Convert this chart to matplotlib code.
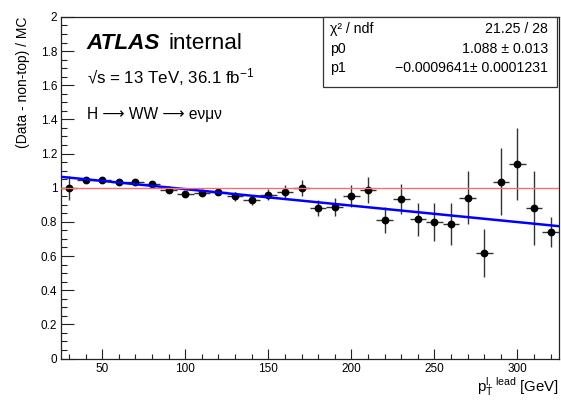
import matplotlib
import numpy as np

matplotlib.use("Agg")
import matplotlib.pyplot as plt
from matplotlib.patches import Rectangle

# bin centres of lead lepton pT [GeV]
pt = [30, 40, 50, 60, 70, 80, 90, 100, 110, 120, 130, 140, 150, 160, 170,
      180, 190, 200, 210, 220, 230, 240, 250, 260, 270, 280, 290, 300, 310, 320]
ratio = [1.000, 1.045, 1.045, 1.035, 1.032, 1.020, 0.985, 0.961, 0.969, 0.977,
         0.950, 0.926, 0.959, 0.977, 1.000, 0.879, 0.885, 0.950, 0.987, 0.809,
         0.934, 0.815, 0.799, 0.786, 0.941, 0.618, 1.035, 1.139, 0.879, 0.739]
ratio_err = [0.070, 0.020, 0.015, 0.015, 0.015, 0.015, 0.015, 0.015, 0.020, 0.020,
             0.027, 0.025, 0.033, 0.039, 0.047, 0.047, 0.053, 0.064, 0.074, 0.076,
             0.090, 0.098, 0.109, 0.123, 0.156, 0.140, 0.196, 0.209, 0.217, 0.088]
bin_halfwidth = 5

# linear fit result
p0, p0_err = 1.088, 0.013
p1, p1_err = -0.0009641, 0.0001231
chi2_ndf = "21.25 / 28"

plt.rcParams["font.family"] = ["Liberation Sans", "DejaVu Sans"]
plt.rcParams["mathtext.fontset"] = "custom"
plt.rcParams["mathtext.rm"] = "Liberation Sans"
plt.rcParams["mathtext.it"] = "Liberation Sans:italic"
plt.rcParams["mathtext.bf"] = "Liberation Sans:bold"

W, H = 561, 400
fig = plt.figure(figsize=(W / 100, H / 100), dpi=100)
ax = fig.add_axes([60.7 / W, 1 - 358.5 / H, (559 - 60.7) / W, (358.5 - 16.9) / H])

xmin, xmax = 25, 325
ax.set_xlim(xmin, xmax)
ax.set_ylim(0, 2)

ax.errorbar(pt, ratio, yerr=ratio_err, xerr=bin_halfwidth, fmt="o", color="k",
            ecolor="#333333", elinewidth=1.0, markersize=4.6, capsize=0, zorder=3)

xs = np.array([xmin, xmax])
ax.plot(xs, p0 + p1 * xs, color="#0000ff", lw=1.8, zorder=4)
ax.axhline(1.0, color="#ff6b6b", lw=1.0, zorder=5)

ax.set_xticks(np.arange(50, 301, 50))
ax.set_xticks(np.arange(30, 321, 10), minor=True)
ax.set_yticks(np.arange(0, 2.01, 0.2))
ax.set_yticks(np.arange(0, 2.001, 0.05), minor=True)
ax.set_yticklabels(["0", "0.2", "0.4", "0.6", "0.8", "1", "1.2", "1.4", "1.6", "1.8", "2"])
ax.tick_params(axis="both", which="both", direction="in", labelsize=8.5,
               width=0.8, color="#222222")
ax.tick_params(axis="y", which="major", length=9.4, pad=2.5)
ax.tick_params(axis="y", which="minor", length=4.3)
ax.tick_params(axis="x", which="major", length=7.2, pad=3.5)
ax.tick_params(axis="x", which="minor", length=3.6)
for s in ax.spines.values():
    s.set_linewidth(0.9)
    s.set_color("#222222")

ax.set_ylabel("(Data - non-top) / MC", loc="top", fontsize=10, labelpad=8)
ax.set_xlabel(r"$\mathrm{p}_{\mathrm{T}}^{\mathrm{l,\ lead}}$ [GeV]", loc="right",
              fontsize=10.8, labelpad=0)


def fx(px):
    return px / W


def fy(py):
    return 1 - py / H


fig.text(fx(86.7), fy(49.3), "ATLAS", fontsize=16.2, fontweight="bold",
         style="italic", va="baseline")
fig.text(fx(168.3), fy(49.3), "internal", fontsize=16.2, va="baseline")
fig.text(fx(86.7), fy(83.3), "\u221as = 13 TeV, 36.1 fb$^{\\mathrm{-1}}$",
         fontsize=12.2, va="baseline")
fig.text(fx(86.7), fy(119), "H \u27f6 WW \u27f6 e\u03bd\u03bc\u03bd", fontsize=11.2,
         va="baseline")

# fit statistics box
box = Rectangle((fx(322.7), fy(87.3)), fx(557.3 - 322.7), (87.3 - 17.3) / H,
                transform=fig.transFigure, facecolor="white", edgecolor="#333333",
                lw=0.9, zorder=10)
fig.patches.append(box)
rows = [("\u03c7\u00b2 / ndf", chi2_ndf),
        ("p0", f"{p0:.3f} \u00b1 {p0_err:.3f}"),
        ("p1", f"\u2212{abs(p1):.7f}\u00b1 {p1_err:.7f}")]
for i, (name, val) in enumerate(rows):
    yb = fy(33.3 + 19.5 * i)
    fig.text(fx(330), yb, name, fontsize=10.2, va="baseline", zorder=11)
    fig.text(fx(547.7), yb, val, fontsize=10.2, va="baseline", ha="right", zorder=11)

fig.savefig("out.png", dpi=100)
